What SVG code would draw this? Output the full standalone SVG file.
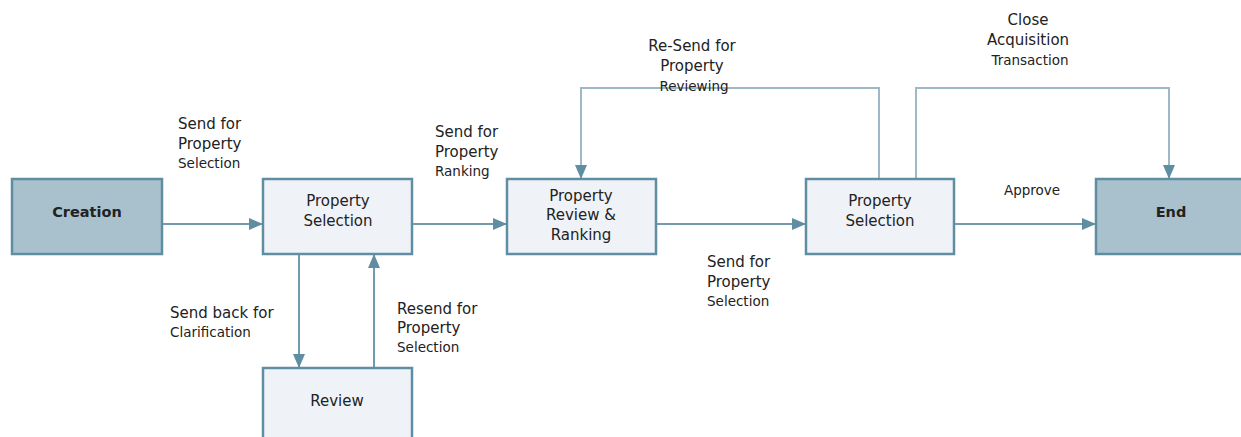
<svg xmlns="http://www.w3.org/2000/svg" width="1241" height="437" viewBox="0 0 1241 437">
<defs>
<style>
.n{fill:#eff3f8;stroke:#5f8ea3;stroke-width:2.5}
.d{fill:#a9c1cd;stroke:#5f8ea3;stroke-width:2.5}
.c{fill:none;stroke:#7299ad;stroke-width:2}
.l{fill:none;stroke:#9db8c6;stroke-width:2}
.t{font-family:"DejaVu Sans",Verdana,sans-serif;font-size:15px;fill:#222}
.s{font-size:13.5px}
.b{font-weight:bold;font-size:14.5px}
.m{text-anchor:middle}
</style>
<marker id="a" viewBox="0 0 14 12" refX="14" refY="6" markerWidth="14" markerHeight="12" markerUnits="userSpaceOnUse" orient="auto">
<path d="M0,0 L14,6 L0,12 z" fill="#5f8ea3"/>
</marker>
</defs>
<rect width="1241" height="437" fill="#fff"/>
<g id="connectors">
<path class="c" d="M162,224 L263,224" marker-end="url(#a)"/>
<path class="c" d="M412,224 L507,224" marker-end="url(#a)"/>
<path class="c" d="M656,224 L806,224" marker-end="url(#a)"/>
<path class="c" d="M954,224 L1096,224" marker-end="url(#a)"/>
<path class="c" d="M299,254 L299,368" marker-end="url(#a)"/>
<path class="c" d="M374,368 L374,254" marker-end="url(#a)"/>
<path class="l" d="M879,179 L879,88 L581,88 L581,179" marker-end="url(#a)"/>
<path class="l" d="M916,179 L916,88 L1169,88 L1169,179" marker-end="url(#a)"/>
</g>
<g id="labels" class="t">
<text x="178" y="129">Send for</text>
<text x="178" y="149">Property</text>
<text x="178" y="168" class="s">Selection</text>
<text x="170" y="318">Send back for</text>
<text x="170" y="337" class="s">Clarification</text>
<text x="397" y="314">Resend for</text>
<text x="397" y="333">Property</text>
<text x="397" y="352" class="s">Selection</text>
<text x="435" y="137">Send for</text>
<text x="435" y="157">Property</text>
<text x="435" y="176" class="s">Ranking</text>
<text x="707" y="267">Send for</text>
<text x="707" y="287">Property</text>
<text x="707" y="306" class="s">Selection</text>
<text x="692" y="51" class="m">Re-Send for</text>
<text x="692" y="71" class="m">Property</text>
<text x="694" y="91" class="m s">Reviewing</text>
<text x="1028" y="25" class="m">Close</text>
<text x="1028" y="45" class="m">Acquisition</text>
<text x="1030" y="65" class="m s">Transaction</text>
<text x="1032" y="195" class="m s">Approve</text>
</g>
<g id="creation">
<rect class="d" x="12" y="179" width="150" height="75"/>
<text class="t b m" x="87" y="217">Creation</text>
</g>
<g id="property-selection-1">
<rect class="n" x="263" y="179" width="149" height="75"/>
<text class="t m" x="338" y="206">Property</text>
<text class="t m" x="338" y="226">Selection</text>
</g>
<g id="review">
<rect class="n" x="263" y="368" width="149" height="80"/>
<text class="t m" x="337" y="406">Review</text>
</g>
<g id="property-review-ranking">
<rect class="n" x="507" y="179" width="149" height="75"/>
<text class="t m" x="581" y="201">Property</text>
<text class="t m" x="581" y="220">Review &amp;</text>
<text class="t m" x="581" y="240">Ranking</text>
</g>
<g id="property-selection-2">
<rect class="n" x="806" y="179" width="148" height="75"/>
<text class="t m" x="880" y="206">Property</text>
<text class="t m" x="880" y="226">Selection</text>
</g>
<g id="end">
<rect class="d" x="1096" y="179" width="150" height="75"/>
<text class="t b m" x="1171" y="217">End</text>
</g>
</svg>
